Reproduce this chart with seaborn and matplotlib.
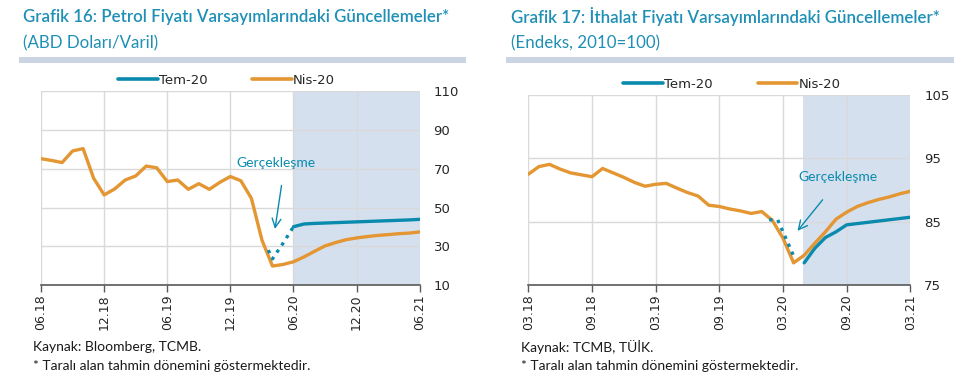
import matplotlib
matplotlib.use('Agg')
import matplotlib.pyplot as plt
import pandas as pd
import seaborn as sns
from matplotlib.lines import Line2D

sns.set_style('white')
plt.rcParams['font.family'] = ['DejaVu Sans']

BLUE = '#0a8aad'
ORANGE = '#e39632'
TITLE_C = '#1e8fb5'
SHADE = '#d5e0ef'
GRID = '#d9d9d9'

# ---- Grafik 16: petrol (months since 06.18) ----
oil_months = list(range(37))
oil_nis = [75.2, 74.3, 73.2, 79.2, 80.4, 65.1, 56.5, 59.6, 64.2, 66.3, 71.4, 70.5,
           63.4, 64.2, 59.4, 62.3, 59.4, 63.0, 66.0, 63.8, 54.7, 33.2, 19.8, 20.6,
           22.0, 24.5, 27.4, 30.2, 31.9, 33.4, 34.3, 35.0, 35.6, 36.0, 36.5, 36.8, 37.4]
oil_tem_dot_m = [21.6, 22, 23, 24]
oil_tem_dot = [28.0, 23.5, 31.5, 40.1]
oil_tem_m = list(range(24, 37))
oil_tem = [40.1, 41.5, 41.8, 42.0, 42.2, 42.4, 42.6, 42.8, 43.0, 43.2, 43.4, 43.6, 43.9]
oil_ticks = [0, 6, 12, 18, 24, 30, 36]
oil_labels = ['06.18', '12.18', '06.19', '12.19', '06.20', '12.20', '06.21']

# ---- Grafik 17: ithalat (months since 03.18) ----
imp_months = list(range(37))
imp_nis = [92.5, 93.7, 94.05, 93.3, 92.7, 92.4, 92.1, 93.4, 92.7, 92.0, 91.2, 90.6,
           90.9, 91.05, 90.3, 89.6, 89.05, 87.6, 87.4, 87.0, 86.7, 86.3, 86.6, 85.2,
           82.4, 78.5, 79.7, 81.6, 83.4, 85.4, 86.5, 87.4, 88.0, 88.5, 88.9, 89.4, 89.8]
imp_tem_dot_m = [22.7, 23.5, 25.0]
imp_tem_dot = [85.3, 85.3, 79.6]
imp_tem_m = list(range(26, 37))
imp_tem = [78.5, 80.8, 82.5, 83.4, 84.5, 84.7, 84.9, 85.1, 85.3, 85.5, 85.7]
imp_ticks = [0, 6, 12, 18, 24, 30, 36]
imp_labels = ['03.18', '09.18', '03.19', '09.19', '03.20', '09.20', '03.21']

fig = plt.figure(figsize=(9.68, 3.85), dpi=100)


def draw(ax, months, nis, dot_m, dot_v, tem_m, tem_v, ticks, labels, ylim, yticks,
         shade_from, text_xy, arrow_tail, arrow_head, leg_x):
    ax.axvspan(shade_from, 36, color=SHADE, zorder=0, lw=0)
    sns.lineplot(x=months, y=nis, ax=ax, color=ORANGE, lw=2.4, zorder=3)
    sns.lineplot(x=dot_m, y=dot_v, ax=ax, color=BLUE, lw=2.4, ls=(0, (1, 1.6)), zorder=4)
    sns.lineplot(x=tem_m, y=tem_v, ax=ax, color=BLUE, lw=2.4, zorder=4)
    ax.set_xlim(0, 36)
    ax.set_ylim(*ylim)
    ax.set_xticks(ticks)
    ax.set_xticklabels(labels, rotation=90, fontsize=9)
    ax.set_yticks(yticks)
    ax.yaxis.tick_right()
    ax.tick_params(axis='y', length=0, labelsize=9.5, pad=10)
    ax.tick_params(axis='x', length=5, color='#595959', width=1, direction='out',
                   labelsize=9, pad=2, bottom=True)
    ax.grid(True, color=GRID, lw=1, zorder=1)
    ax.set_axisbelow(True)
    for s in ['top', 'left', 'right']:
        ax.spines[s].set_visible(False)
    ax.spines['bottom'].set_color('#595959')
    ax.spines['bottom'].set_linewidth(1.2)
    ax.set_xlabel('')
    ax.set_ylabel('')
    ax.text(text_xy[0], text_xy[1], 'Gerçekleşme', color=BLUE, fontsize=10,
            family='Lato', ha='center', va='center')
    ax.annotate('', xy=arrow_head, xytext=arrow_tail,
                arrowprops=dict(arrowstyle='->', color=BLUE, lw=1, mutation_scale=16))
    handles = [Line2D([], [], color=BLUE, lw=2.6), Line2D([], [], color=ORANGE, lw=2.6)]
    ax.legend(handles, ['Tem-20', 'Nis-20'], ncol=2, frameon=False, fontsize=9.5,
              loc='lower center', bbox_to_anchor=(leg_x, 0.995), handlelength=3.0,
              handletextpad=0.1, columnspacing=3.4, borderaxespad=0)


ax1 = fig.add_axes([0.0424, 0.2597, 0.3912, 0.5032])
draw(ax1, oil_months, oil_nis, oil_tem_dot_m, oil_tem_dot, oil_tem_m, oil_tem,
     oil_ticks, oil_labels, (10, 110), [10, 30, 50, 70, 90, 110], 24,
     (22.3, 73), (22.9, 62.8), (22.2, 37.5), 0.49)

ax2 = fig.add_axes([0.5458, 0.2597, 0.3946, 0.4935])
draw(ax2, imp_months, imp_nis, imp_tem_dot_m, imp_tem_dot, imp_tem_m, imp_tem,
     imp_ticks, imp_labels, (75, 105), [75, 85, 95, 105], 25.9,
     (29.2, 92), (27.9, 88.8), (25.2, 83.2), 0.533)

# titles and header bars
for x0, x1, t1, t2 in [(23, 466, 'Grafik 16: Petrol Fiyatı Varsayımlarındaki Güncellemeler*',
                        '(ABD Doları/Varil)'),
                       (511, 954, 'Grafik 17: İthalat Fiyatı Varsayımlarındaki Güncellemeler*',
                        '(Endeks, 2010=100)')]:
    fig.text(x0 / 968, 1 - 17 / 385, t1, color=TITLE_C, fontsize=12.2, family='Lato',
             weight='semibold', ha='left', va='center')
    fig.text(x0 / 968, 1 - 43 / 385, t2, color=TITLE_C, fontsize=12.2, family='Lato',
             ha='left', va='center')
    bar_x0 = x0 - 4 if x0 < 100 else x0 - 5
    fig.patches.append(plt.Rectangle((bar_x0 / 968, 1 - 63 / 385), (x1 - bar_x0) / 968,
                                     6 / 385, transform=fig.transFigure,
                                     color='#cad4e2', lw=0))

# footers
for x0, src in [(33, 'Kaynak: Bloomberg, TCMB.'), (521, 'Kaynak: TCMB, TÜİK.')]:
    fig.text(x0 / 968, 1 - 347 / 385, src, fontsize=10, family='Lato', color='#1a1a1a',
             ha='left', va='center')
    fig.text(x0 / 968, 1 - 366 / 385, '* Taralı alan tahmin dönemini göstermektedir.',
             fontsize=10, family='Lato', color='#1a1a1a', ha='left', va='center')

fig.savefig('out.png', dpi=100)
